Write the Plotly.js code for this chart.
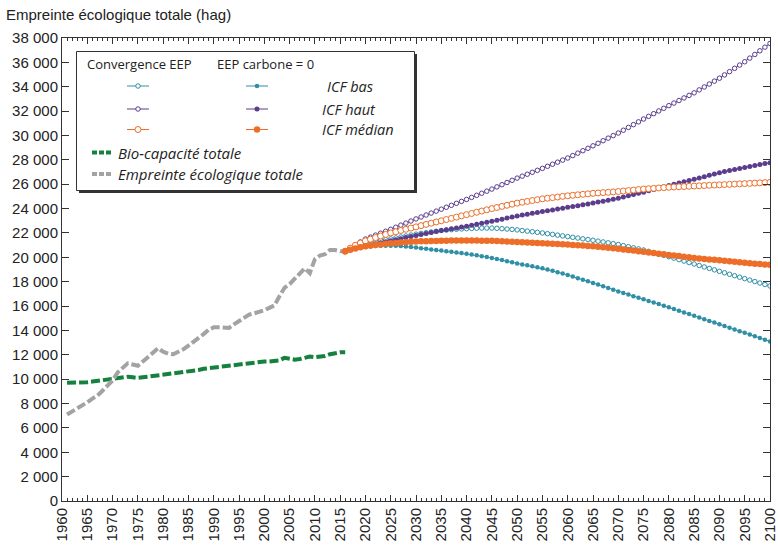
<!DOCTYPE html>
<html>
<head>
<meta charset="utf-8">
<script src="https://cdn.plot.ly/plotly-3.0.1.min.js"></script>
<style>html,body{margin:0;padding:0;background:#fff;}#chart{width:778px;height:546px;}</style>
</head>
<body>
<div id="chart"></div>
<script>
// ---- Data ----
var histStart = 1961, histEnd = 2016;
var scenStart = 2016, scenEnd = 2100;

var empreinteTotale = [7100,7350,7600,7800,8100,8400,8650,9050,9450,9900,
  10550,10950,11300,11200,11100,11450,11800,12200,12550,12250,
  12100,12050,12250,12450,12750,13050,13350,13700,14050,14250,
  14250,14200,14200,14500,14750,15000,15300,15400,15500,15650,
  15850,16050,16800,17500,17800,18200,18650,19100,18700,19850,
  20150,20250,20600,20600,20500,20500];

var bioCapacite = [9700,9700,9700,9700,9750,9800,9850,9950,10000,10050,
  10100,10150,10200,10150,10100,10150,10200,10250,10300,10350,
  10400,10450,10500,10600,10650,10700,10750,10850,10900,10950,
  11050,11100,11150,11200,11250,11300,11350,11400,11450,11450,
  11450,11500,11550,11750,11700,11600,11650,11750,11850,11800,
  11850,11900,12050,12150,12200,12200];

// Convergence EEP (open markers)
var convBas = [20500,20700,20870,21020,21150,21230,21300,21370,21440,21510,
  21590,21670,21750,21830,21900,21960,22020,22080,22140,22200,
  22240,22270,22300,22330,22350,22370,22390,22400,22400,22400,
  22380,22350,22320,22290,22250,22200,22150,22100,22050,22000,
  21940,21880,21820,21760,21700,21640,21580,21520,21460,21400,
  21330,21260,21190,21120,21050,20960,20870,20780,20690,20600,
  20490,20380,20270,20160,20050,19930,19810,19690,19570,19450,
  19330,19210,19090,18970,18850,18730,18610,18490,18370,18250,
  18130,18010,17890,17770,17650];

var convHaut = [20500,20760,21010,21260,21500,21660,21820,21980,22140,22300,
  22470,22640,22810,22980,23150,23310,23470,23630,23790,23950,
  24110,24270,24430,24590,24750,24920,25090,25260,25430,25600,
  25780,25960,26140,26320,26500,26660,26820,26980,27140,27300,
  27470,27640,27810,27980,28150,28350,28550,28750,28950,29150,
  29360,29570,29780,29990,30200,30430,30660,30890,31120,31350,
  31570,31790,32010,32230,32450,32660,32870,33080,33290,33500,
  33740,33980,34220,34460,34700,34970,35240,35510,35780,36050,
  36350,36650,36950,37250,37550];

var convMedian = [20500,20750,20980,21170,21350,21490,21620,21750,21880,22000,
  22100,22200,22300,22400,22500,22600,22700,22800,22900,23000,
  23100,23200,23300,23400,23500,23600,23700,23800,23900,24000,
  24090,24180,24270,24360,24450,24520,24590,24660,24730,24800,
  24850,24900,24950,25000,25050,25090,25130,25170,25210,25250,
  25280,25310,25340,25370,25400,25440,25480,25520,25560,25600,
  25630,25660,25690,25720,25750,25770,25790,25810,25830,25850,
  25870,25890,25910,25930,25950,25970,25990,26010,26030,26050,
  26070,26090,26110,26130,26150];

// EEP carbone = 0 (filled markers)
var carbBas = [20500,20600,20700,20780,20850,20890,20920,20940,20950,20950,
  20940,20920,20890,20850,20800,20750,20700,20650,20600,20550,
  20500,20450,20400,20350,20300,20230,20160,20090,20020,19950,
  19860,19770,19680,19590,19500,19420,19340,19260,19180,19100,
  19000,18890,18780,18670,18550,18420,18290,18160,18030,17900,
  17760,17620,17480,17340,17200,17070,16940,16810,16680,16550,
  16420,16290,16160,16030,15900,15760,15620,15480,15340,15200,
  15060,14920,14780,14640,14500,14360,14220,14080,13940,13800,
  13660,13520,13380,13240,13100];

var carbHaut = [20500,20620,20730,20840,20950,21030,21110,21190,21270,21350,
  21440,21530,21620,21710,21800,21880,21960,22040,22120,22200,
  22270,22340,22410,22480,22550,22630,22710,22790,22870,22950,
  23040,23130,23220,23310,23400,23470,23540,23610,23680,23750,
  23820,23890,23960,24030,24100,24170,24240,24310,24380,24450,
  24530,24610,24690,24770,24850,24950,25050,25150,25250,25350,
  25460,25570,25680,25790,25900,26000,26100,26200,26300,26400,
  26510,26620,26730,26840,26950,27040,27130,27210,27290,27370,
  27450,27530,27610,27690,27770];

var carbMedian = [20500,20620,20730,20820,20900,20960,21010,21060,21110,21150,
  21180,21210,21240,21270,21300,21310,21320,21330,21340,21350,
  21360,21370,21375,21380,21380,21375,21370,21365,21360,21350,
  21330,21310,21290,21270,21250,21230,21210,21190,21170,21150,
  21130,21110,21090,21070,21050,21020,20990,20960,20930,20900,
  20860,20820,20780,20740,20700,20650,20600,20550,20500,20450,
  20400,20350,20300,20250,20200,20150,20100,20050,20000,19950,
  19910,19870,19830,19790,19750,19710,19670,19630,19590,19550,
  19515,19480,19445,19410,19380];

var xTickYears = [1960,1965,1970,1975,1980,1985,1990,1995,2000,2005,2010,2015,2020,2025,2030,2035,2040,2045,2050,2055,2060,2065,2070,2075,2080,2085,2090,2095,2100];
var xTickLabels = xTickYears.map(String);

var seriesNames = ['ICF bas','ICF haut','ICF médian'];
var headerConv = 'Convergence EEP';
var headerCarb = 'EEP carbone = 0';
var labelBio = 'Bio-capacité totale';
var labelEmp = 'Empreinte écologique totale';
var yTitle = 'Empreinte écologique totale (hag)';

// ---- helpers ----
function range(a, b){ var r = []; for (var i = a; i <= b; i++) r.push(i); return r; }
var histYears = range(histStart, histEnd);
var scenYears = range(scenStart, scenEnd);

var TEAL = '#2f8fa6', PURPLE = '#5b3d8c', ORANGE = '#ec6e28', GREEN = '#14823c', GRAY = '#a3a3a3';
var AX = '#333333';

function openTrace(y, color, size, lw){
  return {x: scenYears, y: y, type:'scatter', mode:'lines+markers', showlegend:false, hoverinfo:'skip',
    line:{color:color, width:1},
    marker:{symbol:'circle', size:size, color:'#ffffff', line:{color:color, width:lw}}};
}
function fillTrace(y, color, size){
  return {x: scenYears, y: y, type:'scatter', mode:'lines+markers', showlegend:false, hoverinfo:'skip',
    line:{color:color, width:1},
    marker:{symbol:'circle', size:size, color:color, line:{width:0}}};
}

var traces = [
  {x: histYears, y: bioCapacite, type:'scatter', mode:'lines', showlegend:false, hoverinfo:'skip',
   line:{color:GREEN, width:4, dash:'9px,3px'}},
  {x: histYears, y: empreinteTotale, type:'scatter', mode:'lines', showlegend:false, hoverinfo:'skip',
   line:{color:GRAY, width:4, dash:'9px,3px'}},
  fillTrace(carbBas, TEAL, 4.5),
  openTrace(convBas, TEAL, 4.5, 1),
  fillTrace(carbHaut, PURPLE, 5),
  openTrace(convHaut, PURPLE, 4.5, 1),
  openTrace(convMedian, ORANGE, 6, 1),
  fillTrace(carbMedian, ORANGE, 6.5)
];

// ---- custom legend (pixel-like overlay axes) ----
var legRows = [86, 109, 129.5];
var legColors = [TEAL, PURPLE, ORANGE];
var legOpenSize = [4.5, 4.5, 6];
var legFillSize = [4.5, 5, 6.5];
for (var i = 0; i < 3; i++) {
  traces.push({x:[127,138,149], y:[legRows[i],legRows[i],legRows[i]], xaxis:'x2', yaxis:'y2',
    type:'scatter', mode:'lines+markers', showlegend:false, hoverinfo:'skip',
    line:{color:legColors[i], width:1},
    marker:{symbol:'circle', size:legOpenSize[i], color:'#ffffff', opacity:[0,1,0], line:{color:legColors[i], width:1}}});
  traces.push({x:[246,257,268], y:[legRows[i],legRows[i],legRows[i]], xaxis:'x2', yaxis:'y2',
    type:'scatter', mode:'lines+markers', showlegend:false, hoverinfo:'skip',
    line:{color:legColors[i], width:1},
    marker:{symbol:'circle', size:legFillSize[i], color:legColors[i], opacity:[0,1,0]}});
}
traces.push({x:[92,112], y:[152.5,152.5], xaxis:'x2', yaxis:'y2', type:'scatter', mode:'lines',
  showlegend:false, hoverinfo:'skip', line:{color:GREEN, width:4, dash:'5px,2px'}});
traces.push({x:[92,112], y:[174,174], xaxis:'x2', yaxis:'y2', type:'scatter', mode:'lines',
  showlegend:false, hoverinfo:'skip', line:{color:GRAY, width:4, dash:'5px,2px'}});

var LF = 'Open Sans, Noto Sans, sans-serif';
function ann(text, x, y, italic, size){
  return {text: italic ? '<i>' + text + '</i>' : text, x:x, y:y, xref:'x2', yref:'y2',
    xanchor:'left', yanchor:'middle', showarrow:false,
    font:{family:LF, size:size, color:'#222'}};
}
var annotations = [
  ann(headerConv, 85, 63.5, false, 13),
  ann(headerCarb, 215, 63.5, false, 13),
  ann(seriesNames[0], 325, legRows[0], true, 14.5),
  ann(seriesNames[1], 320, legRows[1], true, 14.5),
  ann(seriesNames[2], 320, legRows[2], true, 14.5),
  ann(labelBio, 116, 152.5, true, 15),
  ann(labelEmp, 116, 174, true, 15)
];

var shapes = [
  {type:'rect', xref:'x2', yref:'y2', x0:79, x1:417, y0:54, y1:193, fillcolor:'#333', line:{width:0}, layer:'below'},
  {type:'rect', xref:'x2', yref:'y2', x0:76.5, x1:414.5, y0:51.5, y1:190.5, fillcolor:'#ffffff', line:{color:'#333', width:1}, layer:'below'}
];

var layout = {
  width:778, height:546,
  margin:{l:62, r:8, t:38, b:45, pad:0},
  paper_bgcolor:'#ffffff', plot_bgcolor:'#ffffff',
  separators:', ',
  font:{family:'Liberation Sans, Arial, sans-serif', size:15, color:'#222'},
  title:{text: yTitle, x:6/778, xanchor:'left', xref:'container', y:1-15/546, yref:'container', yanchor:'middle',
    font:{family:'Liberation Sans, Arial, sans-serif', size:15, color:'#222'}},
  showlegend:false,
  xaxis:{range:[1960,2100], showgrid:false, zeroline:false, showline:true, linecolor:AX, linewidth:1, mirror:'ticks',
    tickmode:'array', tickvals:xTickYears, ticktext:xTickLabels, tickangle:-90,
    ticks:'inside', ticklen:6, tickcolor:AX, tickwidth:1,
    minor:{dtick:1, tick0:1960, ticks:'inside', ticklen:3, tickcolor:AX, tickwidth:1, showgrid:false},
    tickfont:{family:'Liberation Sans, Arial, sans-serif', size:15, color:'#222'}, fixedrange:true},
  yaxis:{range:[0,38000], dtick:2000, tick0:0, showgrid:false, zeroline:false, showline:true, linecolor:AX, linewidth:1, mirror:'ticks',
    ticks:'inside', ticklen:7, tickcolor:AX, tickwidth:1, tickformat:',d',
    tickfont:{family:'Liberation Sans, Arial, sans-serif', size:15, color:'#222'}, fixedrange:true},
  xaxis2:{overlaying:'x', range:[62,770], visible:false, fixedrange:true},
  yaxis2:{overlaying:'y', range:[501,38], visible:false, fixedrange:true},
  annotations: annotations,
  shapes: shapes
};

Plotly.newPlot('chart', traces, layout, {staticPlot:true, displayModeBar:false});
</script>
</body>
</html>
